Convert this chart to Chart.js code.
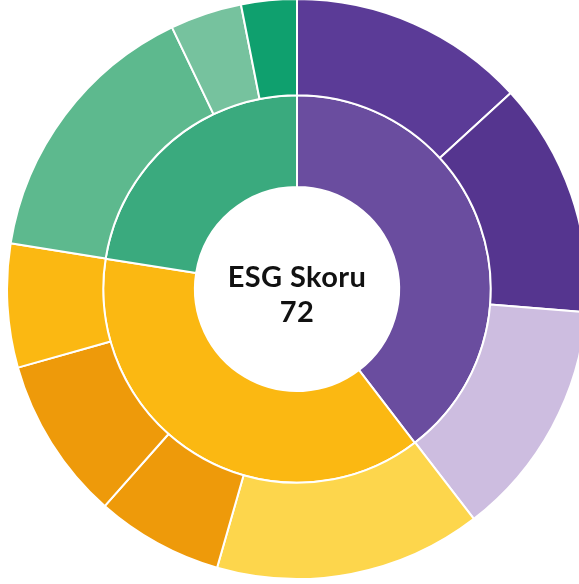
<!DOCTYPE html>
<html lang="tr">
<head>
<meta charset="utf-8">
<title>ESG Skoru</title>
<script src="https://cdn.jsdelivr.net/npm/chart.js@4"></script>
<style>
  html, body { margin: 0; padding: 0; background: #fff; overflow: hidden; }
  body { width: 579px; height: 584px; position: relative; }
  #kutu { position: absolute; left: 6px; top: -2px; width: 582px; height: 582px; }
  #merkez {
    position: absolute; left: 197px; top: 258px; width: 200px;
    text-align: center; font-family: "Lato", "Noto Sans", sans-serif;
    font-weight: 700; font-size: 29px; line-height: 35px; color: #111;
    letter-spacing: 0.4px;
  }
</style>
</head>
<body>
<div id="kutu"><canvas id="grafik"></canvas></div>
<div id="merkez">ESG Skoru<br>72</div>
<script>
// Ana başlıklar (iç halka)
const anaBasliklar = ["Çevresel", "Sosyal", "Yönetişim"];
const anaDegerler = [39.6, 37.9, 22.5];
const anaRenkler = ["#6a4d9f", "#fbb812", "#3aaa7e"];

// Alt başlıklar (dış halka)
const altBasliklar = [
  "Çevresel 1", "Çevresel 2", "Çevresel 3",
  "Sosyal 1", "Sosyal 2", "Sosyal 3", "Sosyal 4",
  "Yönetişim 1", "Yönetişim 2", "Yönetişim 3"
];
const altDegerler = [13.2, 13.1, 13.3, 14.9, 7.1, 9.1, 6.9, 15.4, 4.0, 3.1];
const altRenkler = [
  "#5b3b97", "#55358f", "#cdbde0",
  "#fdd64c", "#ee9a0a", "#ee9a0a", "#fbb812",
  "#5db98e", "#76c29e", "#0fa06e"
];

const ctx = document.getElementById("grafik").getContext("2d");

new Chart(ctx, {
  type: "doughnut",
  data: {
    labels: altBasliklar,
    datasets: [
      {
        label: "Alt başlıklar",
        data: altDegerler,
        backgroundColor: altRenkler,
        borderColor: "#ffffff",
        borderWidth: 2,
        weight: 1.05,
      },
      {
        label: "Ana başlıklar",
        data: anaDegerler,
        backgroundColor: anaRenkler,
        borderColor: "#ffffff",
        borderWidth: 2,
        weight: 1,
      },
    ],
  },
  options: {
    responsive: true,
    maintainAspectRatio: false,
    animation: false,
    cutout: "35.2%",
    hoverOffset: 0,
    plugins: {
      legend: { display: false },
      tooltip: { enabled: false },
    },
  },
});
</script>
</body>
</html>
